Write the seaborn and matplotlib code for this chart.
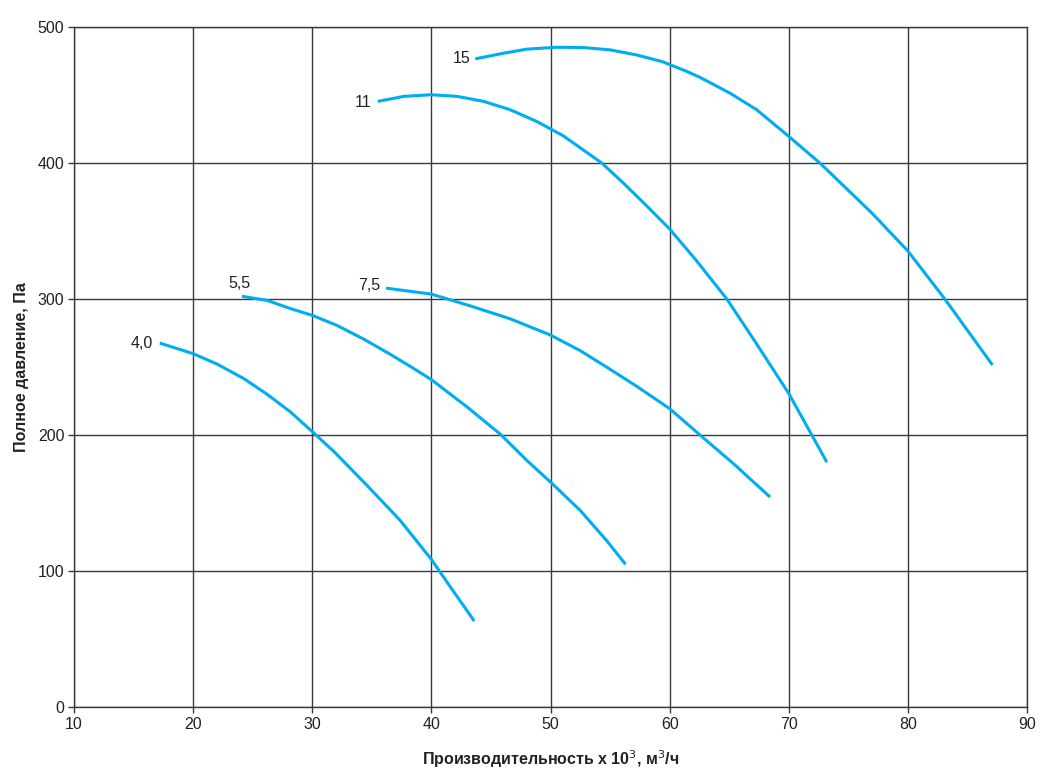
import matplotlib
matplotlib.use("Agg")
import matplotlib.pyplot as plt
import seaborn as sns
import pandas as pd

sns.set_theme(style="white")
plt.rcParams['font.family'] = ['Liberation Sans', 'DejaVu Sans']

# Curve data (x: capacity x10^3 m3/h, y: total pressure Pa)
x_40 = [17.2, 20.0, 22.0, 24.25, 26.2, 28.16, 30.0, 31.8, 33.2, 34.7, 37.4, 40.0, 41.6, 43.6]
y_40 = [267.6, 259.8, 252.2, 241.5, 230, 217, 202.5, 188, 175.5, 162, 137, 108.5, 88.2, 63.2]

x_55 = [24.1, 26.2, 28.16, 30.0, 32.07, 34.3, 36.5, 38.5, 40.0, 43.0, 45.8, 48.0, 50.0, 52.5, 54.7, 56.3]
y_55 = [302, 299, 293, 288, 280.6, 270.6, 259.6, 249, 240.7, 220.6, 200.5, 181.4, 165.4, 144.5, 122.5, 104.9]

x_75 = [36.2, 40.0, 43.24, 46.6, 50.0, 52.5, 54.7, 57.2, 60.0, 62.55, 65.35, 68.43]
y_75 = [308, 303.6, 295, 285.5, 273.5, 262, 250, 236, 219.4, 200, 179, 154.4]

x_11 = [35.5, 37.7, 40.0, 42.15, 44.4, 46.6, 48.84, 51.07, 54.3, 56.1, 58.07, 60.0, 62.27,
        64.8, 67.0, 69.3, 70.0, 73.2]
y_11 = [445.3, 449, 450.2, 449, 445.3, 439.2, 430.6, 420, 400, 385.4, 368.5, 351.5, 328,
        300, 271, 240, 230.5, 180]

x_15 = [43.68, 46.05, 48.0, 50.5, 52.75, 55.0, 57.2, 59.4, 61.4, 62.54, 65.06, 67.3, 70.0,
        72.7, 77.0, 80.0, 83.1, 87.1]
y_15 = [476.6, 480.7, 483.7, 485.1, 484.9, 483.2, 479.5, 474.5, 467.5, 463, 451.4, 439.2, 419.6,
        399.3, 363, 335.3, 300, 251.5]

labels = ["4,0", "5,5", "7,5", "11", "15"]
xs = [x_40, x_55, x_75, x_11, x_15]
ys = [y_40, y_55, y_75, y_11, y_15]

x_ticks = [10, 20, 30, 40, 50, 60, 70, 80, 90]
y_ticks = [0, 100, 200, 300, 400, 500]

frames = []
for lab, xv, yv in zip(labels, xs, ys):
    frames.append(pd.DataFrame({"x": xv, "y": yv, "curve": lab}))
df = pd.concat(frames, ignore_index=True)

fig = plt.figure(figsize=(10.52, 7.77), dpi=100)
ax = fig.add_axes([74/1052, 70/777, (1027-74)/1052, (707-27)/777])

color = "#00AEEF"
sns.lineplot(data=df, x="x", y="y", units="curve", estimator=None, sort=False,
             color=color, linewidth=2.2, ax=ax, legend=False, zorder=3)
for ln in ax.get_lines():
    ln.set_solid_joinstyle("round")
    ln.set_solid_capstyle("butt")

ax.set_xlim(10, 90)
ax.set_ylim(0, 500)
ax.set_xticks(x_ticks)
ax.set_yticks(y_ticks)
ax.grid(True, color="#3a3a3a", linewidth=1.0)
ax.set_axisbelow(True)
for s in ax.spines.values():
    s.set_color("#3a3a3a")
    s.set_linewidth(1.0)
ax.tick_params(axis="both", direction="out", length=4, width=1.0, color="#3a3a3a",
               labelsize=11.5, labelcolor="#222222", pad=3)
ax.tick_params(axis="both", bottom=True, left=True)

# curve labels near start points
label_offsets = {"4,0": (-5, 0, "right"), "5,5": (-2, 9, "center"),
                 "7,5": (-4, 2, "right"), "11": (-4.5, -1, "right"),
                 "15": (-3.5, 0, "right")}
for lab, xv, yv in zip(labels, xs, ys):
    dx, dy, ha = label_offsets[lab]
    ax.annotate(lab, xy=(xv[0], yv[0]), xytext=(dx, dy), textcoords="offset points",
                ha=ha, va="center", fontsize=11.5, color="#222222")

ax.set_xlabel("Производительность х 10$^{3}$, м$^{3}$/ч", fontsize=11.5,
              fontweight="bold", color="#222222", labelpad=12,
              family=['Liberation Sans Narrow', 'Liberation Sans', 'DejaVu Sans'])
ax.set_ylabel("Полное давление, Па", fontsize=11.5, fontweight="bold",
              color="#222222", labelpad=6,
              family=['Liberation Sans Narrow', 'Liberation Sans', 'DejaVu Sans'])

fig.savefig("out.png", dpi=100, facecolor="white")
